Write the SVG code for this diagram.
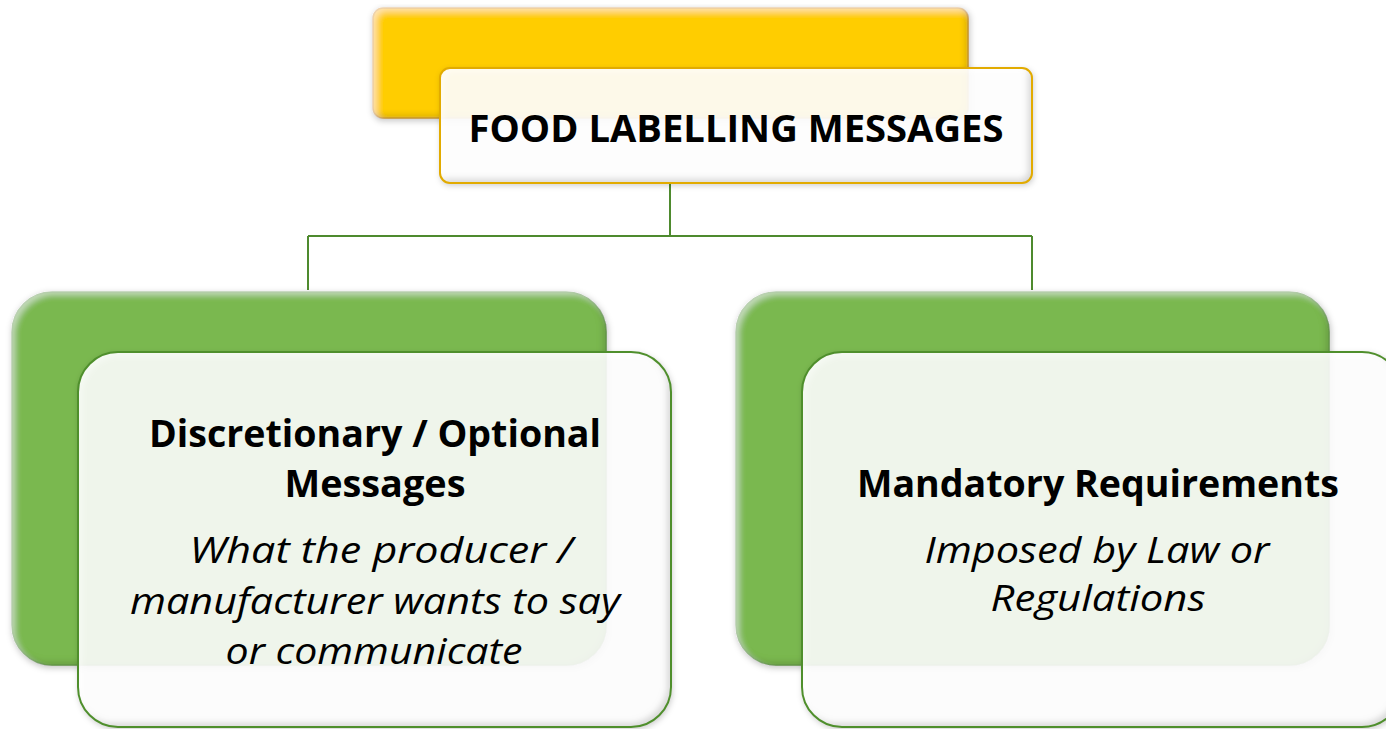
<svg xmlns="http://www.w3.org/2000/svg" width="1386" height="729" viewBox="0 0 1386 729">
  <defs>
    <style>
      .connector { fill: none; stroke: #4e8a2e; stroke-width: 2; }
      .gold { fill: #ffcd05; stroke: #e2ab00; stroke-width: 1.5; }
      .title { fill: #ffffff; fill-opacity: 0.9; }
      .title-edge { fill: none; stroke: #e2ab00; stroke-width: 2; }
      .green { fill: #7ab84f; stroke: #6aa844; stroke-width: 1.5; }
      .panel { fill: #ffffff; fill-opacity: 0.88; }
      .panel-edge { fill: none; stroke: #4f8f2c; stroke-width: 2; }
      text { font-family: "Open Sans", "Liberation Sans", sans-serif; fill: #000000; text-anchor: middle; }
      .head { font-weight: bold; font-size: 37px; }
      .sub { font-style: italic; font-size: 37px; }
    </style>
    <!-- soft bevel: light rim top-left, dark rim bottom-right, plus a drop shadow -->
    <filter id="bevel" x="-5%" y="-5%" width="110%" height="115%">
      <feComponentTransfer in="SourceAlpha" result="solid">
        <feFuncA type="linear" slope="30" intercept="0"/>
      </feComponentTransfer>
      <feGaussianBlur in="solid" stdDeviation="3" result="blur"/>
      <feOffset in="blur" dx="-4" dy="-4" result="upLeft"/>
      <feComposite in="solid" in2="upLeft" operator="out" result="lowRim"/>
      <feFlood flood-color="#000000" flood-opacity="0.3"/>
      <feComposite in2="lowRim" operator="in" result="shade"/>
      <feOffset in="blur" dx="4" dy="4" result="downRight"/>
      <feComposite in="solid" in2="downRight" operator="out" result="highRim"/>
      <feFlood flood-color="#ffffff" flood-opacity="0.45"/>
      <feComposite in2="highRim" operator="in" result="shine"/>
      <feOffset in="blur" dx="1" dy="2" result="dropOff"/>
      <feFlood flood-color="#000000" flood-opacity="0.22"/>
      <feComposite in2="dropOff" operator="in" result="drop"/>
      <feMerge>
        <feMergeNode in="drop"/>
        <feMergeNode in="SourceGraphic"/>
        <feMergeNode in="shade"/>
        <feMergeNode in="shine"/>
      </feMerge>
    </filter>
  </defs>

  <rect width="1386" height="729" fill="#ffffff"/>

  <!-- tree connectors -->
  <g id="connectors">
    <path class="connector" d="M670 183 V236 M308 236 H1032 M308 236 V290 M1032 236 V290"/>
  </g>

  <!-- root: title card over a gold tab -->
  <g id="node-root">
    <rect class="gold" x="373" y="8" width="595" height="110" rx="10" filter="url(#bevel)"/>
    <rect class="title" x="440" y="68" width="592" height="115" rx="10" filter="url(#bevel)"/>
    <rect class="title-edge" x="440" y="68" width="592" height="115" rx="10"/>
    <text class="head" x="736" y="142" textLength="535" lengthAdjust="spacingAndGlyphs">FOOD LABELLING MESSAGES</text>
  </g>

  <!-- left branch -->
  <g id="node-discretionary">
    <rect class="green" x="12" y="292" width="594" height="373" rx="40" filter="url(#bevel)"/>
    <rect class="panel" x="78" y="352" width="593" height="375" rx="40" filter="url(#bevel)"/>
    <rect class="panel-edge" x="78" y="352" width="593" height="375" rx="40"/>
    <text class="head" x="375" y="447" textLength="452" lengthAdjust="spacingAndGlyphs">Discretionary / Optional</text>
    <text class="head" x="375" y="497" textLength="181" lengthAdjust="spacingAndGlyphs">Messages</text>
    <text class="sub" x="381" y="563" textLength="383" lengthAdjust="spacingAndGlyphs">What the producer /</text>
    <text class="sub" x="375" y="614" textLength="490" lengthAdjust="spacingAndGlyphs">manufacturer wants to say</text>
    <text class="sub" x="374" y="664" textLength="297" lengthAdjust="spacingAndGlyphs">or communicate</text>
  </g>

  <!-- right branch -->
  <g id="node-mandatory">
    <rect class="green" x="736" y="292" width="593" height="373" rx="40" filter="url(#bevel)"/>
    <rect class="panel" x="802" y="352" width="600" height="375" rx="40" filter="url(#bevel)"/>
    <rect class="panel-edge" x="802" y="352" width="600" height="375" rx="40"/>
    <text class="head" x="1098" y="497" textLength="482" lengthAdjust="spacingAndGlyphs">Mandatory Requirements</text>
    <text class="sub" x="1097" y="563" textLength="345" lengthAdjust="spacingAndGlyphs">Imposed by Law or</text>
    <text class="sub" x="1098" y="611" textLength="215" lengthAdjust="spacingAndGlyphs">Regulations</text>
  </g>
</svg>
